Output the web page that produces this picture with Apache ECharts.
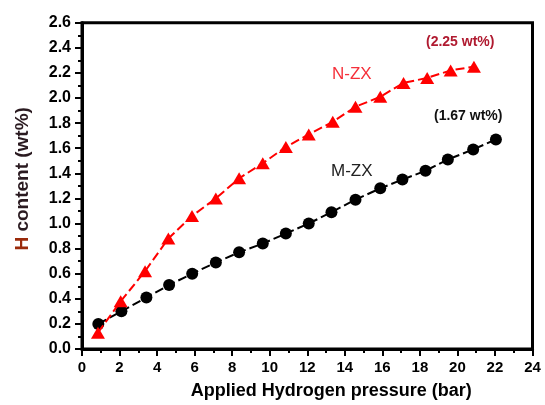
<!DOCTYPE html>
<html>
<head>
<meta charset="utf-8">
<script src="https://cdn.jsdelivr.net/npm/echarts@6/dist/echarts.min.js"></script>
<style>
html,body{margin:0;padding:0;background:#fff;}
#chart{width:545px;height:405px;}
</style>
</head>
<body>
<div id="chart"></div>
<script>
// Data
var mzxPressure = [0.87, 2.1, 3.43, 4.64, 5.87, 7.13, 8.37, 9.63, 10.86, 12.08, 13.29, 14.57, 15.89, 17.07, 18.3, 19.49, 20.84, 22.05];
var mzxContent  = [0.2, 0.3, 0.41, 0.51, 0.6, 0.69, 0.77, 0.84, 0.92, 1.0, 1.09, 1.19, 1.28, 1.35, 1.42, 1.51, 1.59, 1.67];
var nzxPressure = [0.85, 2.06, 3.36, 4.6, 5.86, 7.13, 8.37, 9.63, 10.86, 12.08, 13.36, 14.57, 15.89, 17.13, 18.39, 19.64, 20.88];
var nzxContent  = [0.13, 0.38, 0.62, 0.88, 1.06, 1.2, 1.36, 1.48, 1.61, 1.71, 1.81, 1.93, 2.01, 2.12, 2.16, 2.22, 2.25];
var seriesNames = ['N-ZX', 'M-ZX'];
var annotations = ['(2.25 wt%)', '(1.67 wt%)'];
var xTitle = 'Applied Hydrogen pressure (bar)';
var yTitle = 'H content (wt%)';

function pairs(xs, ys) { return xs.map(function (x, i) { return [x, ys[i]]; }); }

var chart = echarts.init(document.getElementById('chart'), null, {renderer: 'canvas'});
var font = '"Liberation Sans", Arial, sans-serif';

chart.setOption({
  animation: false,
  backgroundColor: '#fff',
  grid: {left: 82, right: 12.5, top: 22.7, bottom: 54, show: true, borderColor: '#000', borderWidth: 3, backgroundColor: 'transparent'},
  xAxis: {
    type: 'value', min: 0, max: 24, interval: 2,
    name: xTitle, nameLocation: 'middle', nameGap: 33,
    nameTextStyle: {fontFamily: font, fontWeight: 'bold', fontSize: 18, color: '#000', padding: [0, 0, 0, 48]},
    axisLine: {show: true, lineStyle: {color: '#000', width: 3}},
    axisTick: {show: true, inside: false, length: 7, lineStyle: {color: '#000', width: 2}},
    minorTick: {show: true, splitNumber: 2, length: 4, lineStyle: {color: '#000', width: 2}},
    axisLabel: {fontFamily: font, fontWeight: 'bold', fontSize: 15, color: '#000', margin: 11},
    splitLine: {show: false}
  },
  yAxis: {
    type: 'value', min: 0, max: 2.6, interval: 0.2,
    name: '{h|H} {r|content (wt%)}', nameLocation: 'middle', nameGap: 50,
    nameTextStyle: {fontFamily: font, fontWeight: 'bold', fontSize: 19, padding: [0, 0, 0, 14],
      rich: {h: {color: '#9a2a0a', fontFamily: font, fontWeight: 'bold', fontSize: 19},
             r: {color: '#2a1a20', fontFamily: font, fontWeight: 'bold', fontSize: 19}}},
    axisLine: {show: true, lineStyle: {color: '#000', width: 3}},
    axisTick: {show: true, inside: false, length: 7, lineStyle: {color: '#000', width: 2}},
    minorTick: {show: true, splitNumber: 2, length: 4, lineStyle: {color: '#000', width: 2}},
    axisLabel: {fontFamily: font, fontWeight: 'bold', fontSize: 16, color: '#000', margin: 11,
      formatter: function (v) { return v.toFixed(1); }},
    splitLine: {show: false}
  },
  series: [
    {
      name: seriesNames[1], type: 'line', data: pairs(mzxPressure, mzxContent),
      symbol: 'circle', symbolSize: 12,
      itemStyle: {color: '#000'},
      lineStyle: {color: '#000', width: 2, type: [9, 4]},
      z: 2
    },
    {
      name: seriesNames[0], type: 'line', data: pairs(nzxPressure, nzxContent),
      symbol: 'triangle', symbolSize: [14, 12],
      itemStyle: {color: '#ff0000'},
      lineStyle: {color: '#ff0000', width: 2, type: [9, 4]},
      z: 3
    }
  ],
  graphic: [
    {type: 'text', left: 332, top: 66, style: {text: seriesNames[0], fill: '#f5303a', font: '17px ' + font}},
    {type: 'text', left: 331, top: 163, style: {text: seriesNames[1], fill: '#222', font: '17px ' + font}},
    {type: 'text', left: 426, top: 35, style: {text: annotations[0], fill: '#b01a30', font: 'bold 14px ' + font}},
    {type: 'text', left: 434, top: 109, style: {text: annotations[1], fill: '#111', font: 'bold 14px ' + font}}
  ]
});
</script>
</body>
</html>
